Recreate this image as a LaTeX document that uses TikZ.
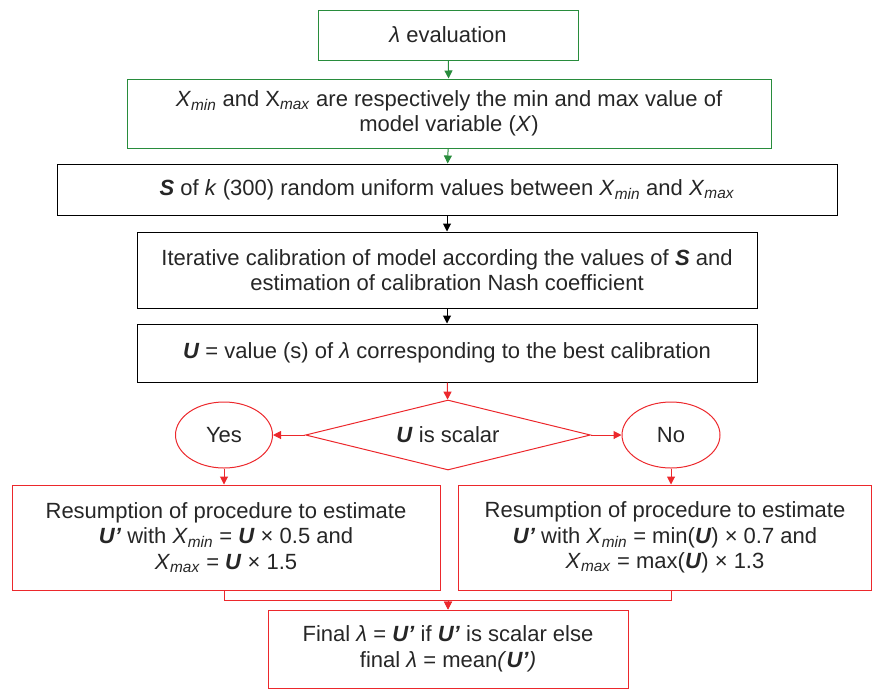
\documentclass[tikz,border=0pt]{standalone}
\usepackage{fontspec}
\setmainfont{Liberation Sans}
\usetikzlibrary{shapes.geometric,arrows.meta}
\definecolor{flowgreen}{RGB}{40,140,60}
\definecolor{flowred}{RGB}{236,40,44}
\newcommand{\bi}[1]{\textbf{\textit{#1}}}
\newcommand{\Xsub}[1]{\textit{X}\textsubscript{\textit{#1}}}
\tikzset{
  box/.style={draw, rectangle, line width=1pt, align=center, inner sep=0pt,
    font=\fontsize{22}{25.5}\selectfont, text=black!85},
  arr/.style={line width=1pt, -{Triangle[length=8pt,width=8pt]}},
}
\begin{document}
\begin{tikzpicture}[x=1pt,y=-1pt]
\useasboundingbox (0,0) rectangle (874,691);
\node[box, draw=flowgreen, minimum width=260, minimum height=50] (eval) at (448,35) {\textit{λ} evaluation};
\node[box, draw=flowgreen, minimum width=644, minimum height=69] (range) at (449,113.5)
  {\Xsub{min} and X\textsubscript{\textit{max}} are respectively the min and max value of\\ model variable (\textit{X})};
\node[box, minimum width=780, minimum height=51] (samp) at (447,189.5)
  {\bi{S} of \textit{k} (300) random uniform values between \Xsub{min} and \Xsub{max}};
\node[box, minimum width=620, minimum height=76] (calib) at (447,270)
  {Iterative calibration of model according the values of \bi{S} and\\ estimation of calibration Nash coefficient};
\node[box, minimum width=620, minimum height=58] (best) at (447,353)
  {\bi{U} = value (s) of \textit{λ} corresponding to the best calibration};
\node[box, diamond, shape aspect=4, draw=flowred, minimum width=285, minimum height=70] (scal) at (448,435) {\bi{U} is scalar};
\node[box, ellipse, draw=flowred, minimum width=97, minimum height=66] (yes) at (224,435) {Yes};
\node[box, ellipse, draw=flowred, minimum width=98, minimum height=66] (no) at (671,435) {No};
\node[box, draw=flowred, minimum width=428, minimum height=105] (resl) at (226,537.5)
  {Resumption of procedure to estimate\\ \bi{U’} with \Xsub{min} = \bi{U} × 0.5 and\\ \Xsub{max} = \bi{U} × 1.5};
\node[box, draw=flowred, minimum width=413, minimum height=105] (resr) at (665,537.5)
  {Resumption of procedure to estimate\\ \bi{U’} with \Xsub{min} = min(\bi{U}) × 0.7 and\\ \Xsub{max} = max(\bi{U}) × 1.3};
\node[box, draw=flowred, minimum width=360, minimum height=78] (final) at (448,649)
  {Final \textit{λ} = \bi{U’} if \bi{U’} is scalar else\\ final \textit{λ} = mean\textit{(}\bi{U’}\textit{)}};
\draw[arr, flowgreen] (eval) -- (range);
\draw[arr, flowgreen] (range) -- (samp);
\draw[arr] (samp) -- (calib);
\draw[arr] (calib) -- (best);
\draw[arr, flowred] (best) -- (scal);
\draw[arr, flowred] (scal) -- (yes);
\draw[arr, flowred] (scal) -- (no);
\draw[arr, flowred] (yes) -- (resl.north -| yes);
\draw[arr, flowred] (no) -- (resr.north -| no);
\draw[arr, flowred] (resl.south -| yes) -- ++(0,10) -| (final.north);
\draw[arr, flowred] (resr.south -| no) -- ++(0,10) -| (final.north);
\end{tikzpicture}
\end{document}
